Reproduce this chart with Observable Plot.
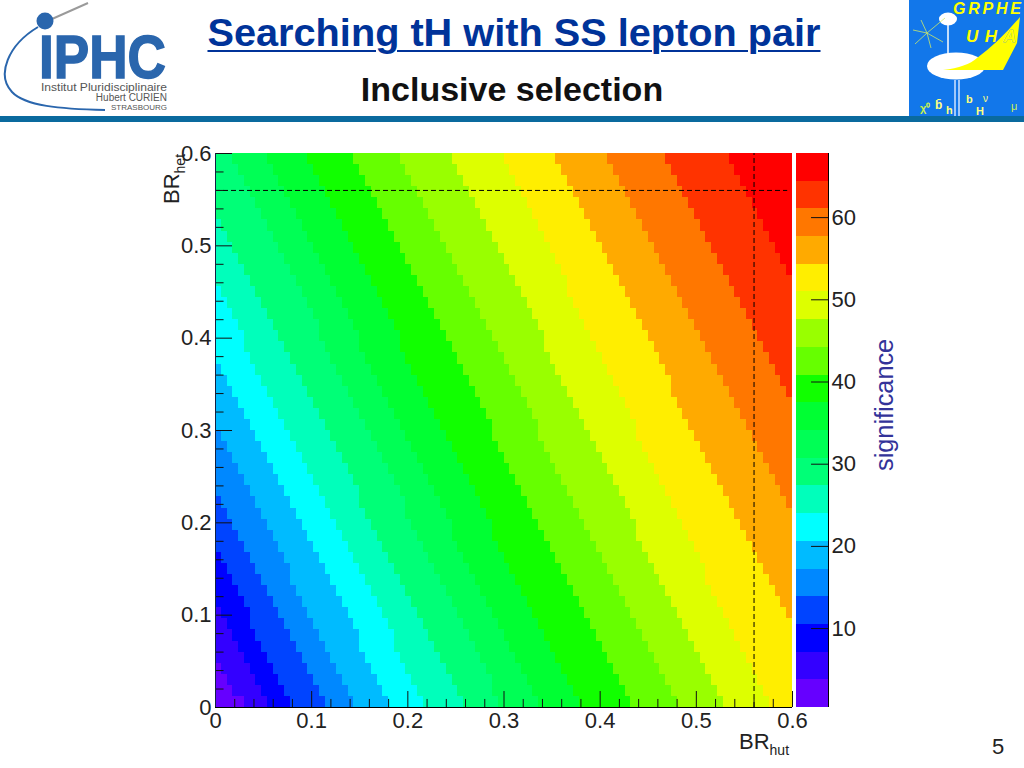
<!DOCTYPE html>
<html><head><meta charset="utf-8">
<script src="https://cdn.jsdelivr.net/npm/d3@7"></script>
<script src="https://cdn.jsdelivr.net/npm/@observablehq/plot@0.6"></script>
<style>
html,body{margin:0;padding:0;background:#fff;width:1024px;height:768px;overflow:hidden;font-family:"Liberation Sans",Arial,sans-serif}
#page{position:relative;width:1024px;height:768px}
#page>*{position:absolute}
#chart,#bar{left:0;top:0}
#title{left:0;width:1028px;top:10px;text-align:center;font-size:39.7px;font-weight:bold;color:#003399;line-height:44px;margin:0}
#title span{text-decoration:underline;text-decoration-thickness:2px;text-underline-offset:4px}
#sub{left:0;width:1024px;top:69px;text-align:center;font-size:34px;font-weight:bold;color:#111;line-height:40px;margin:0}
#band{left:0;top:116px;width:1024px;height:6px;background:#0a6a9e}
.lab{color:#222;font-size:22px;white-space:nowrap;line-height:24px}
.lab sub{font-size:14px;vertical-align:-6px;line-height:0}
#xlab{left:739px;top:730px}
#ylab{left:160px;top:204px;transform-origin:0 0;transform:rotate(-90deg)}
#sig{left:870px;top:471px;transform-origin:0 0;transform:rotate(-90deg);font-size:25.3px;color:#333399;line-height:28px;white-space:nowrap}
#num{left:992px;top:735px;font-size:22px;color:#222;line-height:24px}
</style></head>
<body><div id="page">
<svg id="logo1" style="left:0;top:0" width="200" height="116" font-family="Liberation Sans">
  <path d="M88 3 L52 19" stroke="#9a9a9a" stroke-width="2" fill="none"/>
  <path d="M38 27 C8 45 -4 75 12 92 C25 106 60 109 105 110" stroke="#2a66ad" stroke-width="2" fill="none"/>
  <circle cx="45" cy="21" r="8.5" fill="#2a66ad"/>
  <text x="39" y="78" font-size="62" font-weight="bold" fill="#2a66ad" stroke="#2a66ad" stroke-width="1.5" textLength="127" lengthAdjust="spacingAndGlyphs">IPHC</text>
  <text x="41" y="91" font-size="10.5" fill="#555" textLength="126" lengthAdjust="spacingAndGlyphs">Institut Pluridisciplinaire</text>
  <text x="167" y="101" text-anchor="end" font-size="10" fill="#555">Hubert CURIEN</text>
  <text x="167" y="110" text-anchor="end" font-size="8" fill="#555">STRASBOURG</text>
</svg>
<svg id="logo2" style="left:909px;top:0" width="115" height="116" font-family="Liberation Sans">
  <rect width="115" height="116" fill="#1277ea"/>
  <ellipse cx="39" cy="19" rx="9" ry="6.5" fill="#fff"/>
  <path d="M39 25 V55" stroke="#fff" stroke-width="1.5"/>
  <path d="M36 18 L18 33 M18 33 L4 30 M18 33 L6 44 M18 33 L12 20 M18 33 L22 48 M18 33 L34 42" stroke="#cde86a" stroke-width="0.8" fill="none"/>
  <ellipse cx="47" cy="66" rx="29" ry="13.5" fill="#fff"/>
  <path d="M46 80 V116 M50 80 V116" stroke="#cfe4ff" stroke-width="1.5"/>
  <path d="M34 70 Q58 67 68 58 Q90 42 111 17 L108 43 L94 70 Z" fill="#ffff00"/>
  <text x="44" y="14" font-size="16" font-weight="bold" font-style="italic" fill="#ffff00" textLength="68" lengthAdjust="spacing">GRPHE</text>
  <text x="57" y="42" font-size="17" font-weight="bold" font-style="italic" fill="#ffff00" stroke="#1277ea" stroke-width="0.4" paint-order="stroke" textLength="50" lengthAdjust="spacing">UHA</text>
  <text x="11" y="112" font-size="11" font-weight="bold" fill="#c8f050">χ⁰</text>
  <text x="26" y="109" font-size="12" font-weight="bold" fill="#ffff80">b̄</text>
  <text x="37" y="114" font-size="11" font-weight="bold" fill="#ffff80">h</text>
  <text x="57" y="103" font-size="11" font-weight="bold" fill="#ffff80">b</text>
  <text x="74" y="102" font-size="10" fill="#ffff80">ν</text>
  <text x="67" y="115" font-size="11" font-weight="bold" fill="#ffff80">H</text>
  <text x="102" y="110" font-size="11" fill="#c8f050">μ</text>
</svg>
<h1 id="title"><span>Searching tH with SS lepton pair</span></h1>
<h2 id="sub">Inclusive selection</h2>
<div id="band"></div>
<div id="chart"></div><div id="bar"></div>
<div id="xlab" class="lab">BR<sub>hut</sub></div>
<div id="ylab" class="lab">BR<sub>het</sub></div>
<div id="sig">significance</div>
<div id="num">5</div>
</div>
<script>
// Colour bands, lowest significance first
const bandColors = ["#6600ff","#3300ff","#0000ff","#0044ff","#0088ff","#00bbff","#00ffff","#00ffbb","#00ff77","#00ff55",
  "#00ff33","#11ff00","#66ff00","#99ff00","#ddff00","#ffee00","#ffaa00","#ff7700","#ff3300","#ff0000"];
const bandEdges = [0.4,3.8,7.1,10.5,13.9,17.2,20.6,24,27.4,30.7,34.1,37.5,40.8,44.2,47.6,51,54.3,57.7,61.1,64.4,67.8];
const barTicks = [10,20,30,40,50,60];
const axisMajor = [0,0.1,0.2,0.3,0.4,0.5,0.6];
const axisMinor = [0.02,0.04,0.06,0.08,0.12,0.14,0.16,0.18,0.22,0.24,0.26,0.28,0.32,0.34,0.36,0.38,0.42,0.44,0.46,0.48,0.52,0.54,0.56,0.58];
const optimum = 0.56;
const colWidth = 0.006, rowHeight = 0.012;

// Column at which each next band begins, one entry per pair of rows, from y = 0 upward
const e1 = [5,3,2,1];
const e2 = [9,8,7,6,5,4,3,2,1];
const e3 = [13,12,11,10,9,8,7,6,6,5,4,3,2,1];
const e4 = [19,18,17,16,15,14,13,12,11,10,9,8,7,6,5,4,3,2,1];
const e5 = [24,23,22,21,20,19,18,17,16,15,14,13,13,12,11,10,9,8,7,6,5,4,3,2,1];
const e6 = [30,29,28,27,26,25,25,24,23,22,21,20,19,18,17,16,15,14,13,12,11,10,9,8,7,6,5,4,3,2,1];
const e7 = [36,35,34,33,32,31,31,30,29,28,27,26,25,24,23,22,21,20,19,18,17,16,15,14,13,12,11,10,9,8,7,6,5,5,4,3,2,1];
const e8 = [43,42,41,40,39,38,37,36,35,34,33,32,31,30,29,28,27,26,25,25,24,23,22,21,20,19,18,17,16,15,14,13,12,11,10,9,8,7,6,5,4,3,2,1];
const e9 = [49,48,48,47,46,45,44,43,42,41,40,39,38,37,36,35,34,33,33,32,31,30,29,28,27,26,25,24,23,22,21,20,19,18,18,17,16,15,14,13,12,11,10,9,8,7,6,5,4,3];
const e10 = [56,55,54,53,52,51,50,49,48,47,46,45,44,43,42,41,41,40,39,38,37,36,35,34,33,32,31,30,29,28,27,26,25,25,24,23,22,21,20,19,18,17,16,15,14,13,12,11,10,9];
const e11 = [63,62,61,60,59,58,57,56,55,54,53,52,51,50,49,48,48,47,46,45,44,43,42,41,40,39,38,37,36,35,34,33,32,32,31,30,29,28,27,26,25,24,23,22,21,20,19,18,17,16];
const e12 = [72,71,70,69,68,67,66,65,64,63,62,61,60,59,58,57,56,55,54,53,52,51,50,49,48,48,47,46,45,44,43,42,41,40,39,38,37,36,35,34,33,32,31,30,29,28,27,26,25,24];
const e13 = [80,79,78,77,76,75,74,73,72,71,70,69,68,67,66,65,64,63,62,61,60,59,58,57,56,56,55,54,53,52,51,50,49,48,47,46,45,44,43,42,41,40,39,38,37,36,35,34,33,32];
const e14 = [88,87,86,85,84,83,82,81,80,79,78,77,76,75,74,73,73,72,71,70,69,68,67,66,65,64,63,62,61,60,59,58,57,57,56,55,54,53,52,51,50,49,48,47,46,45,44,43,42,41];
const e15 = [96,95,94,93,92,91,90,89,88,87,86,85,85,84,83,82,81,80,79,78,77,76,75,74,73,73,72,71,70,69,68,67,66,65,64,63,62,61,61,60,59,58,57,56,55,54,53,52,51,50];
const e16 = [99,98,97,96,95,94,93,92,91,90,89,88,87,86,85,84,83,82,81,80,79,79,78,77,76,75,74,73,72,71,70,69,68,67,66,65,64,63,62,61,60,59];
const e17 = [99,98,97,96,95,94,93,92,91,90,89,88,87,86,85,84,83,82,81,80,79,78,77,76,75,74,73,72,71,70,69,68];
const e18 = [99,98,97,96,95,94,93,92,91,90,89,88,87,86,85,84,83,82,81,80,79,78];
const e19 = [99,98,97,96,95,94,93,92,91,90,89];
const edges = [e1,e2,e3,e4,e5,e6,e7,e8,e9,e10,e11,e12,e13,e14,e15,e16,e17,e18,e19];
const firstRow = [0,0,0,0,0,0,0,0,0,0,0,0,0,0,0,8,18,28,39];
const rowCount = 50;

// Row-wise cells, painted left to right: each run extends to the right edge
const cells = [];
for (let r = 0; r < rowCount; r++) cells.push({band: 0, col: 0, row: r});
edges.forEach((e, k) => {
  for (let r = 0; r < rowCount; r++) {
    const i = r - firstRow[k];
    let col;
    if (k < 8) col = r < e.length ? e[r] : 0;      // past its end the edge has left the frame on the left
    else { if (i < 0) continue; col = e[i]; }
    cells.push({band: k + 1, col, row: r});
  }
});
const fmt = d => d === 0 ? "0" : String(d);
const base = {width: 1024, height: 768, style: {background: "transparent", fontFamily: "Liberation Sans", color: "#222"}};
const colorOpt = {type: "ordinal", domain: d3.range(bandColors.length), range: bandColors};

const chart = Plot.plot({
  ...base, marginLeft: 215, marginRight: 232, marginTop: 153, marginBottom: 61,
  x: {domain: [0, 0.6], axis: null}, y: {domain: [0, 0.6], axis: null}, color: colorOpt,
  marks: [
    Plot.rect(cells, {x1: d => d.col * colWidth, x2: 0.6, y1: d => d.row * rowHeight, y2: d => (d.row + 1) * rowHeight,
      fill: "band", shapeRendering: "crispEdges"}),
    Plot.ruleX([optimum], {y1: 0, y2: 0.6, stroke: "#000", strokeWidth: 1, strokeDasharray: "5,3"}),
    Plot.ruleY([optimum], {x1: 0, x2: 0.595, stroke: "#000", strokeWidth: 1, strokeDasharray: "5,3"}),
    Plot.ruleX(axisMajor, {y1: 0, y2: 0.0173, stroke: "#111"}),
    Plot.ruleX(axisMinor, {y1: 0, y2: 0.0087, stroke: "#111"}),
    Plot.ruleY(axisMajor, {x1: 0, x2: 0.0177, stroke: "#111"}),
    Plot.ruleY(axisMinor, {x1: 0, x2: 0.0089, stroke: "#111"}),
    Plot.ruleX([0], {y1: 0, y2: 0.6, stroke: "#124"}),
    Plot.ruleY([0], {x1: 0, x2: 0.6, stroke: "#000"}),
    Plot.axisX({ticks: axisMajor, tickFormat: fmt, tickSize: 0, tickPadding: 5, fontSize: 22, label: null}),
    Plot.axisY({ticks: axisMajor, tickFormat: fmt, tickSize: 0, tickPadding: 4, fontSize: 22, label: null})
  ]
});
document.getElementById("chart").append(chart);

const barCells = bandColors.map((c, i) => ({band: i, lo: bandEdges[i], hi: bandEdges[i + 1]}));
const bar = Plot.plot({
  ...base, marginLeft: 796, marginRight: 196, marginTop: 153, marginBottom: 61,
  x: {domain: [0, 1], axis: null}, y: {domain: [0.4, 67.8], axis: null}, color: colorOpt,
  marks: [
    Plot.rect(barCells, {x1: 0, x2: 1, y1: "lo", y2: "hi", fill: "band", shapeRendering: "crispEdges"}),
    Plot.ruleX([1], {stroke: "#000"}),
    Plot.ruleY(barTicks, {x1: 0.47, x2: 1, stroke: "#111"}),
    Plot.axisY({anchor: "right", ticks: barTicks, tickSize: 0, tickPadding: 3, fontSize: 22, label: null})
  ]
});
document.getElementById("bar").append(bar);
</script>
</body></html>
